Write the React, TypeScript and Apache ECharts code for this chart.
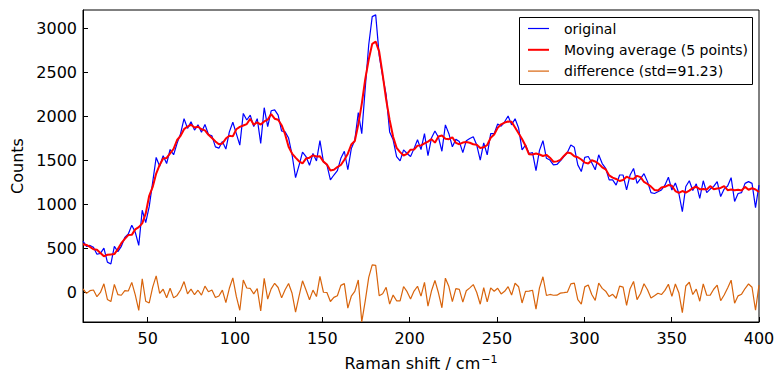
import React, { useEffect, useRef } from "react";
import * as echarts from "echarts";

// Raman spectrum, sampled evenly from X_START to X_END
const X_START = 13;
const X_END = 400;

const ORIGINAL: number[] = [
  580, 520, 530, 510, 430, 440, 500, 340, 320, 520,
  460, 520, 620, 660, 760, 680, 530, 930, 790, 970,
  1250, 1530, 1430, 1550, 1460, 1620, 1560, 1690, 1800, 1970,
  1860, 1935, 1840, 1900, 1815, 1905, 1790, 1775, 1650, 1635,
  1710, 1625, 1820, 1930, 1800, 1670, 2030, 1955, 2010, 1880,
  1970, 1690, 2095, 1880, 2060, 2070, 2010, 1830, 1820, 1750,
  1560, 1300, 1440, 1590, 1540, 1440, 1575, 1490, 1720, 1480,
  1445, 1275, 1330, 1380, 1520, 1600, 1390, 1630, 1725, 2040,
  1800, 2320, 2810, 3130, 3150, 2690, 2450, 2240, 1820, 1730,
  1540, 1490, 1615, 1575, 1540, 1630, 1730, 1620, 1800, 1550,
  1750, 1830, 1760, 1600, 1900, 1800, 1650, 1735, 1710, 1585,
  1720, 1745, 1765, 1670, 1500, 1695, 1560, 1800, 1800, 1910,
  1885, 1935, 2000, 1900, 1970, 1865, 1615, 1670, 1575, 1585,
  1380, 1610, 1720, 1520, 1500, 1445, 1450, 1490, 1540, 1585,
  1670, 1645, 1445, 1370, 1530, 1540, 1470, 1390, 1560, 1460,
  1405, 1275, 1275, 1215, 1330, 1330, 1160, 1330, 1405, 1235,
  1290, 1345, 1255, 1130, 1120, 1140, 1160, 1215, 1305, 1160,
  1240, 1120, 915, 1200, 1265, 1155, 1230, 1065, 1265, 1130,
  1170, 1200, 1255, 1085, 1170, 1205, 1300, 1030, 1120, 1130,
  1235, 1255, 1235, 960, 1215,
];

const WINDOW = 5;
const X_TICKS = [50, 100, 150, 200, 250, 300, 350, 400];
const Y_TICKS = [0, 500, 1000, 1500, 2000, 2500, 3000];
const Y_MIN = -340;
const Y_MAX = 3205;
const LEGEND_LABELS = ["original", "Moving average (5 points)", "difference (std=91.23)"];
const COLORS = ["#0000ff", "#ff0000", "#d8640c"];
const WIDTHS = [1.2, 2, 1.2];

const FONT = "DejaVu Sans";

export default function App() {
  const ref = useRef<HTMLDivElement>(null);
  useEffect(() => {
    const chart = echarts.init(ref.current!, null, { renderer: "svg" });
    const n = ORIGINAL.length;
    const step = (X_END - X_START) / (n - 1);
    const xs = ORIGINAL.map((_, i) => X_START + i * step);
    const half = Math.floor(WINDOW / 2);
    const avg = ORIGINAL.map((_, i) => {
      let s = 0;
      let c = 0;
      for (let j = i - half; j <= i + half; j++) {
        if (j >= 0 && j < n) {
          s += ORIGINAL[j];
          c++;
        }
      }
      return s / c;
    });
    const diff = ORIGINAL.map((v, i) => v - avg[i]);
    const seriesData = [ORIGINAL, avg, diff];

    const legendX = 519;
    const legendY = 17;
    const legendGraphics: any[] = [
      {
        type: "rect",
        shape: { x: legendX + 0.5, y: legendY + 0.5, width: 233, height: 67 },
        style: { fill: "#fff", stroke: "#000", lineWidth: 1 },
        z: 100,
      },
    ];
    LEGEND_LABELS.forEach((label, i) => {
      const cy = 28.5 + i * 21.3;
      legendGraphics.push({
        type: "line",
        shape: { x1: 528, y1: cy, x2: 549, y2: cy },
        style: { stroke: COLORS[i], lineWidth: WIDTHS[i] },
        z: 101,
      });
      legendGraphics.push({
        type: "text",
        x: 564,
        y: cy,
        style: {
          text: label,
          fill: "#000",
          font: `14px "${FONT}"`,
          verticalAlign: "middle",
          align: "left",
        },
        z: 101,
      });
    });

    chart.setOption({
      animation: false,
      backgroundColor: "#fff",
      textStyle: { fontFamily: FONT },
      grid: {
        left: 83,
        right: 24,
        top: 10,
        bottom: 62,
        show: true,
        borderColor: "#000",
        borderWidth: 1,
        backgroundColor: "transparent",
        containLabel: false,
        outerBoundsMode: "none",
      },
      xAxis: {
        type: "value",
        min: X_START,
        max: X_END,
        name: "Raman shift / cm{sup|−1}",
        nameLocation: "middle",
        nameGap: 32,
        nameTextStyle: {
          fontSize: 16,
          color: "#000",
          fontFamily: FONT,
          rich: {
            sup: { fontSize: 11, verticalAlign: "top", padding: [0, 0, 8, 1], fontFamily: FONT, color: "#000" },
          },
        },
        axisLine: { show: true, onZero: false, lineStyle: { color: "#000", width: 1 } },
        axisTick: { show: true, inside: true, length: 5, customValues: X_TICKS, lineStyle: { color: "#000" } },
        axisLabel: {
          customValues: X_TICKS,
          fontSize: 16,
          color: "#000",
          margin: 8,
          fontFamily: FONT,
          formatter: (v: number) => String(v),
        },
        splitLine: { show: false },
      },
      yAxis: {
        type: "value",
        min: Y_MIN,
        max: Y_MAX,
        name: "Counts",
        nameLocation: "middle",
        nameGap: 54,
        nameTextStyle: { fontSize: 16, color: "#000", fontFamily: FONT },
        axisLine: { show: true, onZero: false, lineStyle: { color: "#000", width: 1 } },
        axisTick: { show: true, inside: true, length: 5, customValues: Y_TICKS, lineStyle: { color: "#000" } },
        axisLabel: {
          customValues: Y_TICKS,
          fontSize: 16,
          color: "#000",
          margin: 6,
          fontFamily: FONT,
          formatter: (v: number) => String(v),
        },
        splitLine: { show: false },
      },
      series: LEGEND_LABELS.map((name, k) => ({
        name,
        type: "line",
        showSymbol: false,
        symbol: "none",
        data: xs.map((x, i) => [x, seriesData[k][i]]),
        lineStyle: { color: COLORS[k], width: WIDTHS[k] },
        itemStyle: { color: COLORS[k] },
        z: 2 + k,
        silent: true,
      })),
      graphic: legendGraphics,
    });
    return () => chart.dispose();
  }, []);
  return <div ref={ref} style={{ position: "fixed", left: 0, top: 0, width: 783, height: 384 }} />;
}
